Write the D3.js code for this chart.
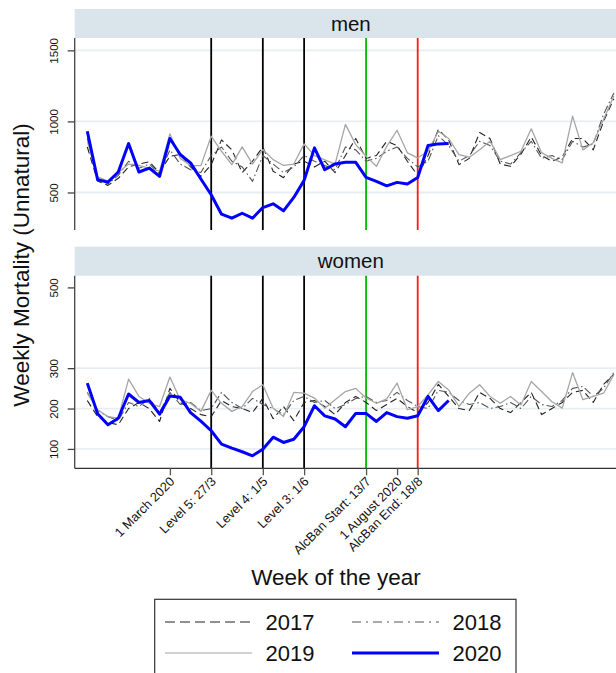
<!DOCTYPE html>
<html><head><meta charset="utf-8">
<script src="https://cdn.jsdelivr.net/npm/d3@7"></script>
<style>body{margin:0;background:#fff}svg{display:block;font-family:"Liberation Sans",Arial,sans-serif}</style>
</head><body><svg id="c" width="616" height="673"></svg>
<script>
const weeks = d3.range(1, 53);
const men2017 = [820,580,550,600,680,700,716,640,755,767,680,613,696,870,800,640,720,820,650,604,700,720,680,720,640,760,880,740,760,860,830,720,620,760,943,870,696,740,922,880,700,684,770,890,760,720,750,880,880,800,1000,1160];
const men2018 = [880,600,560,620,720,670,700,630,800,700,660,640,760,820,720,680,578,760,700,640,680,760,720,690,660,820,800,720,740,790,820,740,680,720,900,830,720,760,860,830,720,700,780,860,740,760,730,860,820,840,1050,1200];
const men2019 = [860,610,580,640,700,690,670,650,913,740,690,689,896,790,696,821,700,802,731,690,700,842,760,730,700,979,837,755,684,825,938,779,743,790,931,880,767,748,800,861,731,760,790,948,780,740,708,1037,800,850,1014,1179];
const men2020 = [931,590,573,644,844,644,672,613,880,767,708,595,484,347,319,354,319,394,420,371,465,585,814,660,701,712,712,606,578,547,571,559,606,830,842,844];
const women2017 = [220,180,165,160,200,215,200,168,250,215,200,185,180,220,205,200,190,225,175,205,170,215,220,205,185,215,230,215,195,210,225,205,190,215,260,230,200,195,240,225,200,190,215,240,185,200,215,240,245,215,260,285];
const women2018 = [240,195,180,170,215,205,225,190,240,210,215,195,200,240,215,200,225,210,200,185,220,230,215,220,200,210,225,230,215,220,240,220,205,200,245,240,220,210,215,200,205,215,200,230,210,205,220,250,255,230,250,290];
const women2019 = [238,197,180,176,273,230,213,205,278,222,213,193,245,213,193,205,242,259,201,180,240,238,226,201,222,242,250,226,213,224,263,197,205,234,267,246,205,238,259,230,213,230,209,267,242,217,201,289,222,230,238,284];
const women2020 = [263,187,160,176,236,215,220,186,231,228,190,169,145,112,102,93,83,99,129,116,124,155,207,182,174,155,188,188,168,190,180,176,182,230,195,220];
const panelNames = ["men", "women"];
const menTicks = [500, 1000, 1500];
const womenTicks = [100, 200, 300, 500];
const menGrid = [500, 1000, 1500];
const womenGrid = [100, 200, 300];
const tickWeeks = [9, 13, 18, 22, 28, 31, 33];
const tickLabels = ["1 March 2020", "Level 5: 27/3", "Level 4: 1/5", "Level 3: 1/6", "AlcBan Start: 13/7", "1 August 2020", "AlcBan End: 18/8"];
const eventWeeks = [13, 18, 22, 28, 33];
const eventColors = ["#000", "#000", "#000", "#00bb00", "#ff1a1a"];
const seriesNames = ["2017", "2018", "2019", "2020"];

const svg = d3.select("#c");
const plotL = 74.7, plotR = 627;
const x = d3.scaleLinear().domain([1, 33]).range([87.3, 417.7]);

const styles = {
  "2017": {stroke: "#222", width: 1.1, dash: "7,4"},
  "2018": {stroke: "#555", width: 1.1, dash: "8,3,1.5,3"},
  "2019": {stroke: "#a6a6a6", width: 1.3, dash: null},
  "2020": {stroke: "#0000ff", width: 3, dash: null}
};

const panels = [
  {name: "men", stripTop: 9, top: 38, bottom: 230, domain: [236, 1587], ticks: menTicks, grid: menGrid,
   data: {"2017": men2017, "2018": men2018, "2019": men2019, "2020": men2020}},
  {name: "women", stripTop: 246.7, top: 275.7, bottom: 468.3, domain: [52, 529], ticks: womenTicks, grid: womenGrid,
   data: {"2017": women2017, "2018": women2018, "2019": women2019, "2020": women2020}}
];

panels.forEach((p, pi) => {
  const y = d3.scaleLinear().domain(p.domain).range([p.bottom, p.top]);
  const g = svg.append("g");
  g.append("rect").attr("x", plotL).attr("y", p.stripTop).attr("width", plotR - plotL).attr("height", p.top - p.stripTop).attr("fill", "#d9e4eb");
  g.append("text").attr("x", (plotL + plotR) / 2).attr("y", (p.stripTop + p.top) / 2 + 7).attr("text-anchor", "middle").attr("font-size", 20.5).attr("fill", "#111").text(panelNames[pi]);
  g.selectAll(".grid").data(p.grid).join("line").attr("x1", plotL).attr("x2", plotR).attr("y1", d => y(d)).attr("y2", d => y(d)).attr("stroke", "#e8eef1").attr("stroke-width", 1.8);
  g.selectAll(".ev").data(eventWeeks).join("line").attr("x1", d => x(d)).attr("x2", d => x(d)).attr("y1", p.top).attr("y2", p.bottom).attr("stroke", (d, i) => eventColors[i]).attr("stroke-width", 1.8);
  const line = d3.line().x((d, i) => x(weeks[i])).y(d => y(d));
  seriesNames.forEach(s => {
    const st = styles[s];
    g.append("path").datum(p.data[s]).attr("d", line).attr("fill", "none").attr("stroke", st.stroke).attr("stroke-width", st.width).attr("stroke-dasharray", st.dash).attr("stroke-linejoin", "round");
  });
  const ya = g.append("g").attr("transform", `translate(${plotL},0)`).call(d3.axisLeft(y).tickValues(p.ticks).tickFormat(d3.format("d")).tickSize(7).tickSizeOuter(0));
  ya.select(".domain").attr("stroke", "#444").attr("stroke-width", 1.3).attr("d", `M0,${p.top}V${p.bottom}`);
  ya.selectAll(".tick line").attr("stroke", "#444").attr("stroke-width", 1.3);
  ya.selectAll(".tick text").attr("x", 0).attr("dy", 0).attr("transform", "translate(-17,0) rotate(-90)").attr("text-anchor", "middle").attr("font-size", 11.5).attr("fill", "#111").attr("font-family", null);
  if (pi === 1) {
    const xa = g.append("g").attr("transform", `translate(0,${p.bottom})`).call(d3.axisBottom(x).tickValues(tickWeeks).tickFormat((d, i) => tickLabels[i]).tickSize(7).tickSizeOuter(0));
    xa.select(".domain").attr("stroke", "#333").attr("stroke-width", 1.3).attr("d", `M${plotL},0H${plotR}`);
    xa.selectAll(".tick line").attr("stroke", "#555").attr("stroke-width", 1.3);
    xa.selectAll(".tick text").attr("x", 0).attr("y", 0).attr("dy", 0).attr("transform", "translate(5,14) rotate(-45)").attr("text-anchor", "end").attr("font-size", 12.8).attr("fill", "#111").attr("font-family", null);
  }
});

svg.append("text").attr("transform", "translate(29,265) rotate(-90)").attr("text-anchor", "middle").attr("font-size", 22.5).attr("fill", "#111").text("Weekly Mortality (Unnatural)");
svg.append("text").attr("x", 336).attr("y", 585).attr("text-anchor", "middle").attr("font-size", 22.5).attr("fill", "#111").text("Week of the year");

const lg = svg.append("g");
lg.append("rect").attr("x", 154.7).attr("y", 599.3).attr("width", 361.3).attr("height", 100).attr("fill", "#fff").attr("stroke", "#333").attr("stroke-width", 1.2);
const legPos = [[165, 622], [352, 622], [165, 653], [352, 653]];
seriesNames.forEach((s, i) => {
  const st = styles[s];
  const [lx, ly] = legPos[i];
  lg.append("line").attr("x1", lx).attr("x2", lx + 87).attr("y1", ly).attr("y2", ly).attr("stroke", st.stroke).attr("stroke-width", s === "2020" ? 3 : 1.2).attr("stroke-dasharray", s === "2017" ? "10,5" : s === "2018" ? "9,5,2,5" : null);
  lg.append("text").attr("x", lx + 100.5).attr("y", ly + 8).attr("font-size", 22).attr("fill", "#111").text(s);
});
</script></body></html>
